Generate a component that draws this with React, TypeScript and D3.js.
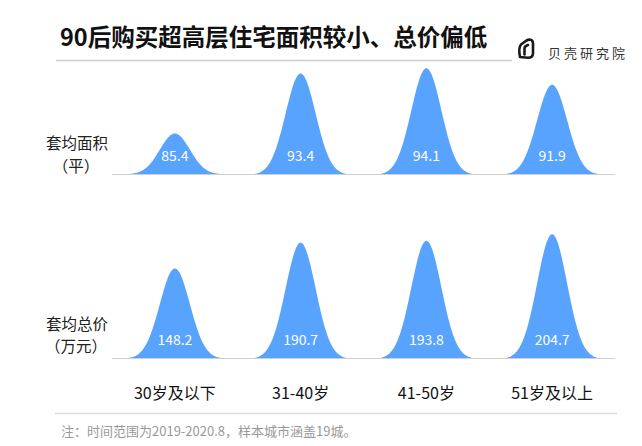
import React from "react";
import * as d3 from "d3";

const categories = ["30岁及以下", "31-40岁", "41-50岁", "51岁及以上"];
const areaValues = [85.4, 93.4, 94.1, 91.9];
const priceValues = [148.2, 190.7, 193.8, 204.7];
const rowLabels = [["套均面积", "（平）"], ["套均总价", "（万元）"]];
const title = "90后购买超高层住宅面积较小、总价偏低";
const note = "注：时间范围为2019-2020.8，样本城市涵盖19城。";
const brand = "贝壳研究院";

const W = 642;
const H = 446;
const FONT = "'Noto Sans CJK SC', 'Noto Sans', sans-serif";
const BLUE = "#57a3fe";

const x = d3.scaleBand<string>().domain(categories).range([112, 615]).padding(0);
const yArea = d3.scaleLinear().domain([80, 100]).range([174, 24]);
const yPrice = d3.scaleLinear().domain([0, 248]).range([358, 208]);

const HALF = 46;
const SIGMA = 15;
const offsets = d3.range(-HALF, HALF + 0.5, 1);
const e0 = Math.exp(-(HALF * HALF) / (2 * SIGMA * SIGMA));
const bell = (dx: number) => (Math.exp(-(dx * dx) / (2 * SIGMA * SIGMA)) - e0) / (1 - e0);

function Row({ values, y }: { values: number[]; y: d3.ScaleLinear<number, number> }) {
  const base = y.range()[0];
  return (
    <g>
      <line x1={112} x2={615} y1={base + 0.5} y2={base + 0.5} stroke="#cfcfcf" strokeWidth={1.2} />
      {values.map((v, i) => {
        const cx = (x(categories[i]) ?? 0) + x.bandwidth() / 2;
        const h = base - y(v);
        const area = d3
          .area<number>()
          .x((d) => cx + d)
          .y0(base)
          .y1((d) => base - h * bell(d))
          .curve(d3.curveBasis);
        return (
          <g key={i}>
            <path d={area(offsets) ?? ""} fill={BLUE} />
            <text x={cx} y={base - 13} textAnchor="middle" fill="#fff" fontSize={14} fontFamily={FONT}>
              {v.toFixed(1)}
            </text>
          </g>
        );
      })}
    </g>
  );
}

function RowLabel({ lines, y }: { lines: string[]; y: number }) {
  return (
    <g fontSize={15.5} fontFamily={FONT} fill="#222" textAnchor="middle">
      <text x={77} y={y}>{lines[0]}</text>
      <text x={76} y={y + 22.5}>{lines[1]}</text>
    </g>
  );
}

export default function App() {
  return (
    <svg
      width={W}
      height={H}
      viewBox={`0 0 ${W} ${H}`}
      style={{ position: "absolute", left: 0, top: 0, display: "block", background: "#fff" }}
    >
      <rect width={W} height={H} fill="#fff" />
      <text x={60} y={46} fontSize={23.5} fontWeight="bold" fontFamily={FONT} fill="#111">
        {title}
      </text>
      <line x1={56} x2={512} y1={60.5} y2={60.5} stroke="#cccccc" strokeWidth={1.5} />
      {/* logo */}
      <g fill="none" stroke="#1a1a1a" strokeWidth={2.6} strokeLinejoin="round" strokeLinecap="round">
        <path d="M520,57 C519,52 519,47 521,44.5 L526.5,40.5 C530,38.5 533,40 533,43.5 L533,53 C533,56 531,57.8 528,57.8 Z" />
        <path d="M524.5,54.5 L524.5,48.5 C524.5,46.5 526,45.5 528,45" />
      </g>
      <text x={548} y={58} fontSize={13} letterSpacing={3} fontFamily={FONT} fill="#333">
        {brand}
      </text>

      <RowLabel lines={rowLabels[0]} y={149} />
      <RowLabel lines={rowLabels[1]} y={329.5} />

      <Row values={areaValues} y={yArea} />
      <Row values={priceValues} y={yPrice} />

      {categories.map((c) => (
        <text
          key={c}
          x={(x(c) ?? 0) + x.bandwidth() / 2}
          y={399}
          textAnchor="middle"
          fontSize={16}
          fontFamily={FONT}
          fill="#111"
        >
          {c}
        </text>
      ))}

      <line x1={55} x2={617} y1={413.5} y2={413.5} stroke="#dddddd" strokeWidth={1.5} />
      <text x={61} y={436} fontSize={13} fontFamily={FONT} fill="#999">
        {note}
      </text>
    </svg>
  );
}
